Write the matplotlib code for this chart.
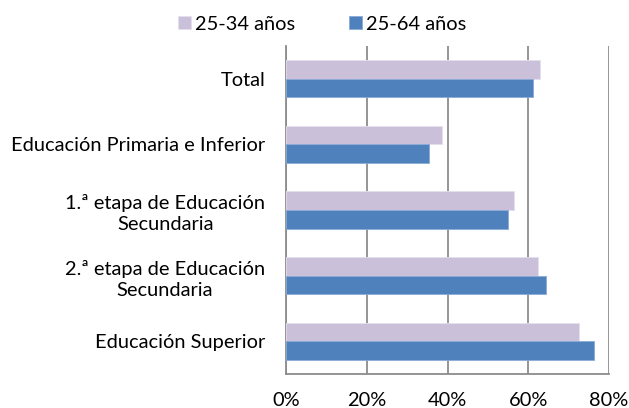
import numpy as np
import matplotlib.pyplot as plt
from matplotlib.ticker import FuncFormatter

plt.rcParams['font.family'] = ['Lato', 'DejaVu Sans']

categories = ['Total', 'Educación Primaria e Inferior', '1.ª etapa de Educación\nSecundaria',
              '2.ª etapa de Educación\nSecundaria', 'Educación Superior']
young = [63.0, 38.7, 56.4, 62.3, 72.5]   # 25-34 años
adult = [61.2, 35.5, 54.9, 64.4, 76.2]   # 25-64 años
series_labels = ['25-34 años', '25-64 años']
xticks = [0, 20, 40, 60, 80]

fig = plt.figure(figsize=(6.29, 4.08), dpi=100)
ax = fig.add_axes([286 / 629, 1 - 374 / 408, (609 - 286) / 629, (374 - 46) / 408])

y = np.arange(len(categories))
h = 0.285
ax.barh(y - h / 2, young, height=h, color='#cbc0da', edgecolor='#e6e0ee', linewidth=0.6,
        label=series_labels[0], zorder=3)
ax.barh(y + h / 2, adult, height=h, color='#4f81bd', edgecolor='#8aaad6', linewidth=0.6,
        label=series_labels[1], zorder=3)

ax.set_ylim(len(categories) - 0.5, -0.5)
ax.set_xlim(0, 80)
ax.set_xticks(xticks)
ax.xaxis.set_major_formatter(FuncFormatter(lambda v, p: f'{v:.0f}%'))
ax.set_yticks(y)
ax.set_yticklabels(categories, multialignment='center', linespacing=1.3)
ax.tick_params(axis='y', length=0, pad=15, labelsize=14.4)
ax.tick_params(axis='x', length=0, pad=13, labelsize=14.4)
ax.grid(axis='x', color='#8c8c8c', linewidth=1.3, zorder=0)
for s in ['top', 'right']:
    ax.spines[s].set_visible(False)
for s in ['left', 'bottom']:
    ax.spines[s].set_color('#8c8c8c')
    ax.spines[s].set_linewidth(1.3)

ax.legend(loc='center', bbox_to_anchor=(322 / 629, 1 - 24 / 408), bbox_transform=fig.transFigure,
          ncol=2, frameon=False, fontsize=14.4, handlelength=0.65, handleheight=0.65,
          handletextpad=0.2, columnspacing=2.7)

plt.savefig('out.png', dpi=100)
